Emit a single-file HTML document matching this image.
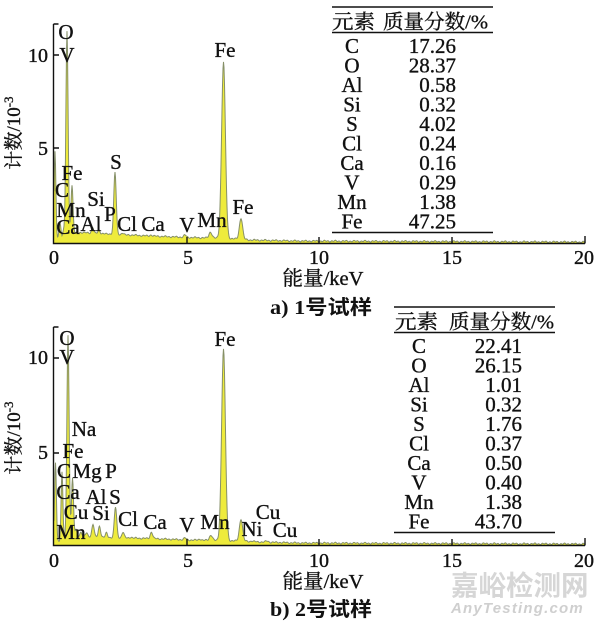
<!DOCTYPE html>
<html><head><meta charset="utf-8"><style>
html,body{margin:0;padding:0;background:#fff;width:601px;height:625px;overflow:hidden}
svg{display:block}
.s{font-family:"Liberation Serif","Noto Serif CJK SC",serif;fill:#111;stroke:#111;stroke-width:0.35px}
</style></head><body>
<svg id="svg" width="601" height="625" viewBox="0 0 601 625" xmlns="http://www.w3.org/2000/svg">
<g id="specA"></g>
<g id="specB"></g>

<g stroke="#111" stroke-width="1.4" fill="none">
<path d="M53.5,24V243.5H585M53.5,24H58.5M53.5,55H59M53.5,148H59M187,243.5V237M319,243.5V237M452,243.5V237M585,243.5V236"/>
<path d="M53.5,327V545.5H585M53.5,327H58.5M53.5,358H59M53.5,453H59M187,545.5V539M319,545.5V539M452,545.5V539M585,545.5V538"/>
</g>

<g class="s" font-size="20" text-anchor="middle">
<text x="54" y="264">0</text><text x="188" y="264">5</text><text x="319" y="264">10</text><text x="452" y="264">15</text><text x="584" y="264">20</text>
<text x="54" y="567">0</text><text x="188" y="567">5</text><text x="319" y="567">10</text><text x="452" y="567">15</text><text x="584" y="567">20</text>
</g>
<g class="s" font-size="20" text-anchor="end">
<text x="48" y="62">10</text><text x="48" y="155">5</text>
<text x="48" y="364">10</text><text x="48" y="459">5</text>
</g>

<g class="s" font-size="19" text-anchor="middle">
<text transform="translate(20,133) rotate(-90)">计数/10<tspan font-size="13" dy="-7">-3</tspan></text>
<text transform="translate(20,438) rotate(-90)">计数/10<tspan font-size="13" dy="-7">-3</tspan></text>
</g>
<g class="s" font-size="20" text-anchor="middle">
<text x="323" y="285" textLength="81" lengthAdjust="spacingAndGlyphs">能量/keV</text>
<text x="323" y="588" textLength="81" lengthAdjust="spacingAndGlyphs">能量/keV</text>
</g>
<g font-size="20" font-weight="bold" fill="#111">
<text x="270" y="314" textLength="102" lengthAdjust="spacingAndGlyphs"><tspan font-family="Liberation Serif,serif">a) 1</tspan><tspan font-family="Noto Sans CJK SC,sans-serif">号试样</tspan></text>
<text x="270" y="616" textLength="102" lengthAdjust="spacingAndGlyphs"><tspan font-family="Liberation Serif,serif">b) 2</tspan><tspan font-family="Noto Sans CJK SC,sans-serif">号试样</tspan></text>
</g>

<g class="s" font-size="21" text-anchor="middle">
<text x="66" y="39">O</text>
<text x="67" y="62">V</text>
<text x="225" y="57">Fe</text>
<text x="116" y="169">S</text>
<text x="72" y="180">Fe</text>
<text x="62" y="197">C</text>
<text x="96" y="206">Si</text>
<text x="71" y="217">Mn</text>
<text x="110" y="221">P</text>
<text x="91" y="231">Al</text>
<text x="68" y="234">Ca</text>
<text x="127" y="231">Cl</text>
<text x="153" y="231">Ca</text>
<text x="187" y="232">V</text>
<text x="212" y="227">Mn</text>
<text x="243" y="214">Fe</text>
</g>

<g class="s" font-size="21" text-anchor="middle">
<text x="67" y="345">O</text>
<text x="67" y="364">V</text>
<text x="225" y="346">Fe</text>
<text x="84" y="436">Na</text>
<text x="73" y="458">Fe</text>
<text x="64" y="478">C</text>
<text x="87" y="478">Mg</text>
<text x="111" y="478">P</text>
<text x="68" y="499">Ca</text>
<text x="96" y="504">Al</text>
<text x="115" y="504">S</text>
<text x="76" y="519">Cu</text>
<text x="101" y="520">Si</text>
<text x="128" y="526">Cl</text>
<text x="155" y="529">Ca</text>
<text x="187" y="532">V</text>
<text x="215" y="529">Mn</text>
<text x="71" y="539">Mn</text>
<text x="268" y="519">Cu</text>
<text x="252" y="536">Ni</text>
<text x="285" y="537">Cu</text>
</g>

<g stroke="#111" stroke-width="1.5">
<line x1="332" y1="7" x2="493" y2="7"/><line x1="332" y1="32.5" x2="493" y2="32.5"/><line x1="332" y1="232.5" x2="493" y2="232.5"/>
<line x1="394" y1="307" x2="555" y2="307"/><line x1="394" y1="332.5" x2="555" y2="332.5"/><line x1="394" y1="532.5" x2="555" y2="532.5"/>
</g>
<g class="s" font-size="20">
<text x="332" y="28.5" textLength="43" lengthAdjust="spacingAndGlyphs">元素</text><text x="383" y="28.5" textLength="105" lengthAdjust="spacingAndGlyphs">质量分数/%</text>
<text x="395" y="328.5" textLength="43" lengthAdjust="spacingAndGlyphs">元素</text><text x="449" y="328.5" textLength="105" lengthAdjust="spacingAndGlyphs">质量分数/%</text>
</g>
<g class="s" font-size="21" text-anchor="middle">
<text x="352" y="53">C</text><text x="352" y="72.5">O</text><text x="352" y="92">Al</text><text x="352" y="111.5">Si</text><text x="352" y="131">S</text>
<text x="352" y="150.5">Cl</text><text x="352" y="170">Ca</text><text x="352" y="189.5">V</text><text x="352" y="209">Mn</text><text x="352" y="228.5">Fe</text>
<text x="419" y="353">C</text><text x="419" y="372.5">O</text><text x="419" y="392">Al</text><text x="419" y="411.5">Si</text><text x="419" y="431">S</text>
<text x="419" y="450.5">Cl</text><text x="419" y="470">Ca</text><text x="419" y="489.5">V</text><text x="419" y="509">Mn</text><text x="419" y="528.5">Fe</text>
</g>
<g class="s" font-size="21" text-anchor="end">
<text x="456" y="53">17.26</text><text x="456" y="72.5">28.37</text><text x="456" y="92">0.58</text><text x="456" y="111.5">0.32</text><text x="456" y="131">4.02</text>
<text x="456" y="150.5">0.24</text><text x="456" y="170">0.16</text><text x="456" y="189.5">0.29</text><text x="456" y="209">1.38</text><text x="456" y="228.5">47.25</text>
<text x="522" y="353">22.41</text><text x="522" y="372.5">26.15</text><text x="522" y="392">1.01</text><text x="522" y="411.5">0.32</text><text x="522" y="431">1.76</text>
<text x="522" y="450.5">0.37</text><text x="522" y="470">0.50</text><text x="522" y="489.5">0.40</text><text x="522" y="509">1.38</text><text x="522" y="528.5">43.70</text>
</g>

<text x="451" y="595" font-family="Noto Sans CJK SC,sans-serif" font-size="27.5" font-weight="bold" fill="#d6d6d6">嘉峪检测网</text>
<text x="451" y="613" font-family="Liberation Sans,sans-serif" font-size="15" font-style="italic" font-weight="bold" fill="#cfcfcf" letter-spacing="1.2">AnyTesting.com</text>
</svg>
<script>
(function(){
var NS="http://www.w3.org/2000/svg";
function interp(pts,x){
  if(x<=pts[0][0])return pts[0][1];
  for(var i=1;i<pts.length;i++){
    if(x<=pts[i][0]){var a=pts[i-1],b=pts[i];return a[1]+(b[1]-a[1])*(x-a[0])/(b[0]-a[0]);}
  }
  return pts[pts.length-1][1];
}
function build(gid,axisY,basePts,peaks){
  var g=document.getElementById(gid);
  var pts=[];
  for(var x=54;x<=585;x+=0.5){
    var b=interp(basePts,x);
    var y=b+0.5*Math.sin(x*1.7)+0.4*Math.sin(x*0.63+1);
    for(var k=0;k<peaks.length;k++){
      var c=peaks[k][0],top=peaks[k][1],s=peaks[k][2];
      var h=interp(basePts,c)-top;
      y-=h*Math.exp(-((x-c)*(x-c))/(2*s*s));
    }
    if(y>axisY)y=axisY;
    pts.push(x.toFixed(1)+","+y.toFixed(1));
  }
  var line="M"+pts.join("L");
  var fill=document.createElementNS(NS,"path");
  fill.setAttribute("d",line+"L585,"+axisY+"L54,"+axisY+"Z");
  fill.setAttribute("fill","#eeeb3c");
  g.appendChild(fill);
  var st=document.createElementNS(NS,"path");
  st.setAttribute("d",line);
  st.setAttribute("fill","none");
  st.setAttribute("stroke","#869068");
  st.setAttribute("stroke-width","1");
  g.appendChild(st);
}
build("specA",243,
 [[54,239],[56,240],[62,239.5],[66,234],[80,232.5],[110,234],[150,236],[190,237.5],[230,238.5],[250,240],[300,241],[585,242]],
 [[55,152,0.9],[60,222,1.0],[63.5,230,0.8],[67,31,1.1],[72,185,1.0],[92.6,227,1.0],[99,230,1.0],[106,234,1.0],[115,172,1.2],
  [122.5,233,1.0],[126,235,1.0],[151,235,1.2],[185,235,1.2],[210.5,232,1.5],[223.5,62,1.9],[241,218,1.6]]);
build("specB",545,
 [[54,541],[57,542],[63,541],[68,537],[80,536],[110,537.5],[150,538.5],[190,540],[240,541],[260,542],[300,543],[585,544]],
 [[55.5,463,0.9],[62,472,0.9],[68,335,1.1],[72.5,478,1.0],[76,530,0.9],[81,532,1.0],[86.5,533,1.0],[93,524,1.1],[99.5,526,1.1],
  [106.5,533,1.0],[115.5,507,1.2],[123,532,1.1],[131,537,1.0],[151.5,532,1.2],[185,538,1.2],[200,539,1.2],[211,535,1.5],
  [223.5,349,1.9],[241,519,1.6],[252,541,1.2],[267,541,1.3]]);
})();
</script>
</body></html>
